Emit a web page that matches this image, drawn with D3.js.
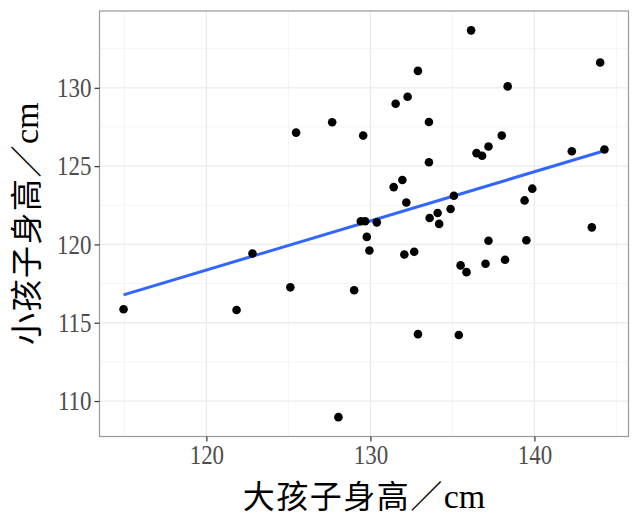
<!DOCTYPE html>
<html>
<head>
<meta charset="utf-8">
<script src="https://cdn.jsdelivr.net/npm/d3@7"></script>
<style>
  html, body { margin: 0; padding: 0; background: #fff; }
  svg { display: block; }
</style>
</head>
<body>
<svg id="chart" width="640" height="516"></svg>
<script>
// Data (older child height, younger child height, cm)
const bigChild = [114.95, 121.84, 122.81, 125.12, 125.47, 127.67, 128.05, 129.01, 129.56, 129.42,
  129.68, 129.78, 129.94, 130.39, 131.42, 131.54, 131.95, 132.07, 132.19, 132.27,
  132.67, 132.90, 132.90, 133.57, 133.57, 133.61, 134.10, 134.19, 134.89, 135.09,
  135.39, 135.50, 135.86, 136.14, 136.47, 136.81, 137.02, 137.20, 137.20, 138.01,
  138.21, 138.37, 139.40, 139.51, 139.87, 142.28, 143.50, 144.01, 144.27];
const smallChild = [115.86, 115.81, 119.42, 117.26, 127.14, 127.80, 108.97, 117.07, 126.95, 121.48,
  121.48, 120.48, 119.61, 121.41, 123.66, 128.98, 124.11, 119.36, 122.68, 129.43,
  119.53, 131.08, 114.27, 127.82, 125.25, 121.69, 122.01, 121.31, 122.26, 123.11,
  114.22, 118.66, 118.23, 133.67, 125.83, 125.66, 118.77, 126.25, 120.23, 126.95,
  119.02, 130.09, 122.81, 120.27, 123.56, 125.95, 121.09, 131.62, 126.06];
const xTicks = [120, 130, 140];
const yTicks = [110, 115, 120, 125, 130];
const xMinor = [115, 125, 135, 145];
const yMinor = [107.5, 112.5, 117.5, 122.5, 127.5, 132.5];
const xTitle = "大孩子身高／";
const yTitle = "小孩子身高／";
const unit = "cm";

const svg = d3.select("#chart");
const panel = { left: 99.5, right: 628.5, top: 11, bottom: 436.5 };

function padded(ext) {
  const d = (ext[1] - ext[0]) * 0.05;
  return [ext[0] - d, ext[1] + d];
}
const x = d3.scaleLinear().domain(padded(d3.extent(bigChild))).range([panel.left, panel.right]);
const y = d3.scaleLinear().domain(padded(d3.extent(smallChild))).range([panel.bottom, panel.top]);

const g = svg.append("g");

// minor grid
g.selectAll(".xminor").data(xMinor.filter(v => x(v) > panel.left && x(v) < panel.right)).enter()
  .append("line").attr("x1", d => x(d)).attr("x2", d => x(d))
  .attr("y1", panel.top).attr("y2", panel.bottom)
  .attr("stroke", "#f2f2f2").attr("stroke-width", 0.8);
g.selectAll(".yminor").data(yMinor.filter(v => y(v) > panel.top && y(v) < panel.bottom)).enter()
  .append("line").attr("y1", d => y(d)).attr("y2", d => y(d))
  .attr("x1", panel.left).attr("x2", panel.right)
  .attr("stroke", "#f2f2f2").attr("stroke-width", 0.8);
// major grid
g.selectAll(".xmajor").data(xTicks).enter()
  .append("line").attr("x1", d => x(d)).attr("x2", d => x(d))
  .attr("y1", panel.top).attr("y2", panel.bottom)
  .attr("stroke", "#ebebeb").attr("stroke-width", 1.3);
g.selectAll(".ymajor").data(yTicks).enter()
  .append("line").attr("y1", d => y(d)).attr("y2", d => y(d))
  .attr("x1", panel.left).attr("x2", panel.right)
  .attr("stroke", "#ebebeb").attr("stroke-width", 1.3);

// regression line (least squares)
const mx = d3.mean(bigChild), my = d3.mean(smallChild);
let sxy = 0, sxx = 0;
bigChild.forEach((v, i) => { sxy += (v - mx) * (smallChild[i] - my); sxx += (v - mx) * (v - mx); });
const slope = sxy / sxx, icpt = my - slope * mx;
const xr = d3.extent(bigChild);
g.append("line")
  .attr("x1", x(xr[0])).attr("y1", y(icpt + slope * xr[0]))
  .attr("x2", x(xr[1])).attr("y2", y(icpt + slope * xr[1]))
  .attr("stroke", "#3366FF").attr("stroke-width", 3);

// points
g.selectAll(".pt").data(bigChild.map((v, i) => [v, smallChild[i]])).enter()
  .append("circle").attr("cx", d => x(d[0])).attr("cy", d => y(d[1]))
  .attr("r", 4.3).attr("fill", "#000");

// panel border
g.append("rect").attr("x", panel.left).attr("y", panel.top)
  .attr("width", panel.right - panel.left).attr("height", panel.bottom - panel.top)
  .attr("fill", "none").attr("stroke", "#999").attr("stroke-width", 1.2);

// axes
const sx = 0.85;
const xAxis = d3.axisBottom(x).tickValues(xTicks).tickSize(5).tickPadding(3);
const yAxis = d3.axisLeft(y).tickValues(yTicks).tickSize(5).tickPadding(3);
const xa = svg.append("g").attr("transform", `translate(0,${panel.bottom})`).call(xAxis);
const ya = svg.append("g").attr("transform", `translate(${panel.left},0)`).call(yAxis);
[xa, ya].forEach(a => {
  a.select(".domain").remove();
  a.selectAll(".tick line").attr("stroke", "#333").attr("stroke-width", 1.2);
  a.selectAll(".tick text").attr("fill", "#4d4d4d")
    .style("font-family", "'Liberation Serif', 'DejaVu Serif', serif")
    .style("font-size", "27px");
});
ya.selectAll(".tick text").attr("x", -8 / sx).attr("transform", `scale(${sx},1)`);
xa.selectAll(".tick text").attr("transform", `scale(${sx},1)`);

// axis titles
const xt = svg.append("text").attr("x", (panel.left + panel.right) / 2).attr("y", 508)
  .attr("text-anchor", "middle").attr("fill", "#000")
  .style("letter-spacing", "1.5px")
  .style("font-family", "'Noto Sans CJK SC', sans-serif").style("font-size", "32px");
xt.append("tspan").text(xTitle);
xt.append("tspan").style("font-family", "'Liberation Serif', serif").style("font-size", "34px")
  .style("letter-spacing", "0px").text(unit);

const yt = svg.append("text")
  .attr("transform", `translate(38,${(panel.top + panel.bottom) / 2}) rotate(-90)`)
  .attr("text-anchor", "middle").attr("fill", "#000")
  .style("letter-spacing", "1.5px")
  .style("font-family", "'Noto Sans CJK SC', sans-serif").style("font-size", "32px");
yt.append("tspan").text(yTitle);
yt.append("tspan").style("font-family", "'Liberation Serif', serif").style("font-size", "34px")
  .style("letter-spacing", "0px").text(unit);
</script>
</body>
</html>
